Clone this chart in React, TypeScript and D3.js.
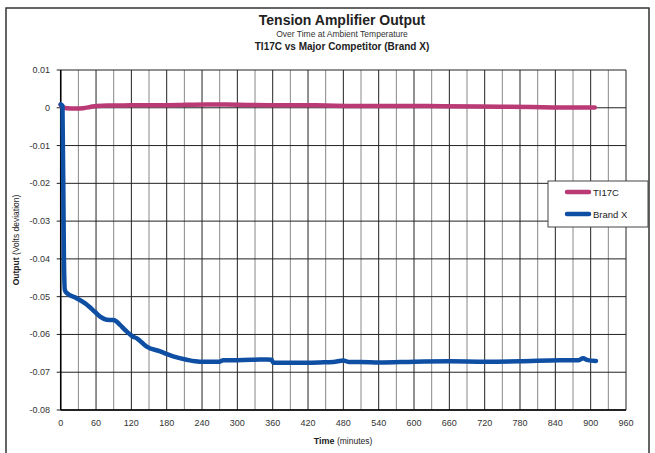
import React from 'react';
import * as d3 from 'd3';

// time in minutes, output in volts deviation
const tiTime = [0, 3, 10, 25, 38, 50, 61, 80, 100, 135, 180, 248, 300, 360, 400, 450, 500, 576, 650, 746, 800, 850, 907];
const tiValue = [0.0008, 0.0001, -0.0001, -0.0002, -0.0001, 0.0002, 0.0005, 0.0006, 0.0006, 0.0007, 0.0007, 0.0009, 0.0008, 0.0007, 0.0007, 0.0006, 0.0005, 0.0005, 0.0004, 0.0003, 0.0002, 0.0001, 0.0001];

const bxTime = [0, 3, 5.5, 7, 10, 27, 41, 58, 67, 78, 89, 95, 101, 112, 123, 129, 146, 169, 191, 214, 236, 270, 276, 300, 330, 350, 358, 361, 400, 440, 463, 480, 490, 508, 542, 600, 660, 720, 780, 848, 880, 887, 895, 909];
const bxValue = [0.0009, 0.0005, -0.0403, -0.0482, -0.049, -0.0504, -0.0517, -0.054, -0.0553, -0.0561, -0.0562, -0.0566, -0.0575, -0.0592, -0.0606, -0.061, -0.0632, -0.0645, -0.0658, -0.0667, -0.0672, -0.0672, -0.0668, -0.0668, -0.0667, -0.0666, -0.0667, -0.0675, -0.0675, -0.0674, -0.0673, -0.0669, -0.0673, -0.0673, -0.0674, -0.0672, -0.0671, -0.0672, -0.0671, -0.0668, -0.0668, -0.0663, -0.0668, -0.067];

const xTicks = d3.range(0, 961, 60);
const xGrid = d3.range(0, 961, 30);
const yTicks = [0.01, 0, -0.01, -0.02, -0.03, -0.04, -0.05, -0.06, -0.07, -0.08];

const seriesNames = ['TI17C', 'Brand X'];
const seriesColors = ['#b93a74', '#0f4fa3'];

const font = '"Liberation Sans", Arial, sans-serif';

const App: React.FC = () => {
  const width = 655;
  const height = 453;
  const x = d3.scaleLinear().domain([0, 960]).range([60.7, 626]);
  const y = d3.scaleLinear().domain([-0.08, 0.01]).range([410, 70]);

  const line = d3
    .line<[number, number]>()
    .x((d) => x(d[0]))
    .y((d) => y(d[1]))
    .curve(d3.curveMonotoneX);

  const tiData = tiTime.map((t, i) => [t, tiValue[i]] as [number, number]);
  const bxData = bxTime.map((t, i) => [t, bxValue[i]] as [number, number]);

  // hyphen-minus like the original, not the unicode minus
  const fmtY = (v: number) => (v === 0 ? '0' : d3.format('.2~f')(v).replace('\u2212', '-'));

  return (
    <svg
      width={width}
      height={height}
      style={{ position: 'absolute', left: 0, top: 0, fontFamily: font }}
    >
      <rect x={0} y={0} width={width} height={height} fill="#fff" />
      <path d={`M6,${height + 2}V8H649V${height + 2}`} fill="none" stroke="#333" strokeWidth={1.5} />

      <text x={342} y={25} textAnchor="middle" fontSize={14} fontWeight="bold" fill="#222">
        Tension Amplifier Output
      </text>
      <text x={342} y={37} textAnchor="middle" fontSize={8.5} fill="#333">
        Over Time at Ambient Temperature
      </text>
      <text x={342} y={50} textAnchor="middle" fontSize={10} fontWeight="bold" fill="#222">
        TI17C vs Major Competitor (Brand X)
      </text>

      {/* vertical grid */}
      {xGrid.map((t) => (
        <line
          key={`vx${t}`}
          x1={x(t)}
          x2={x(t)}
          y1={y(0.01)}
          y2={y(-0.08)}
          stroke={t % 60 === 0 ? '#222' : '#888'}
          strokeWidth={1}
        />
      ))}
      {/* horizontal grid */}
      {yTicks.map((v) => (
        <line
          key={`hy${v}`}
          x1={x(0) - 4}
          x2={x(960)}
          y1={y(v)}
          y2={y(v)}
          stroke="#222"
          strokeWidth={1}
        />
      ))}
      <line x1={x(0)} x2={x(0)} y1={y(0.01)} y2={y(-0.08)} stroke="#000" strokeWidth={1.5} />
      <line x1={x(0)} x2={x(960)} y1={y(-0.08)} y2={y(-0.08)} stroke="#000" strokeWidth={1.5} />

      {yTicks.map((v) => (
        <text key={`yt${v}`} x={50} y={y(v) + 3} textAnchor="end" fontSize={9} fill="#333">
          {fmtY(v)}
        </text>
      ))}
      {xTicks.map((t) => (
        <text key={`xt${t}`} x={x(t)} y={426} textAnchor="middle" fontSize={9} fill="#333">
          {t}
        </text>
      ))}

      <text x={343} y={444} textAnchor="middle" fontSize={9} fill="#222">
        <tspan fontWeight="bold">Time</tspan>
        <tspan fontSize={8.5}> (minutes)</tspan>
      </text>
      <text
        transform={`translate(19,240) rotate(-90)`}
        textAnchor="middle"
        fontSize={8.5}
        fill="#222"
      >
        <tspan fontWeight="bold">Output</tspan>
        <tspan> (Volts deviation)</tspan>
      </text>

      <path d={line(tiData) ?? ''} fill="none" stroke={seriesColors[0]} strokeWidth={4.5} strokeLinecap="round" strokeLinejoin="round" />
      <path d={line(bxData) ?? ''} fill="none" stroke={seriesColors[1]} strokeWidth={4.5} strokeLinecap="round" strokeLinejoin="round" />

      {/* legend */}
      <rect x={548} y={181} width={100} height={46} fill="#fff" stroke="#444" strokeWidth={1} />
      {seriesNames.map((name, i) => (
        <g key={name} transform={`translate(0,${192 + i * 22})`}>
          <line x1={567} x2={589} y1={0} y2={0} stroke={seriesColors[i]} strokeWidth={4.5} strokeLinecap="round" />
          <text x={593} y={3.5} fontSize={9.5} fill="#222">
            {name}
          </text>
        </g>
      ))}
    </svg>
  );
};

export default App;
